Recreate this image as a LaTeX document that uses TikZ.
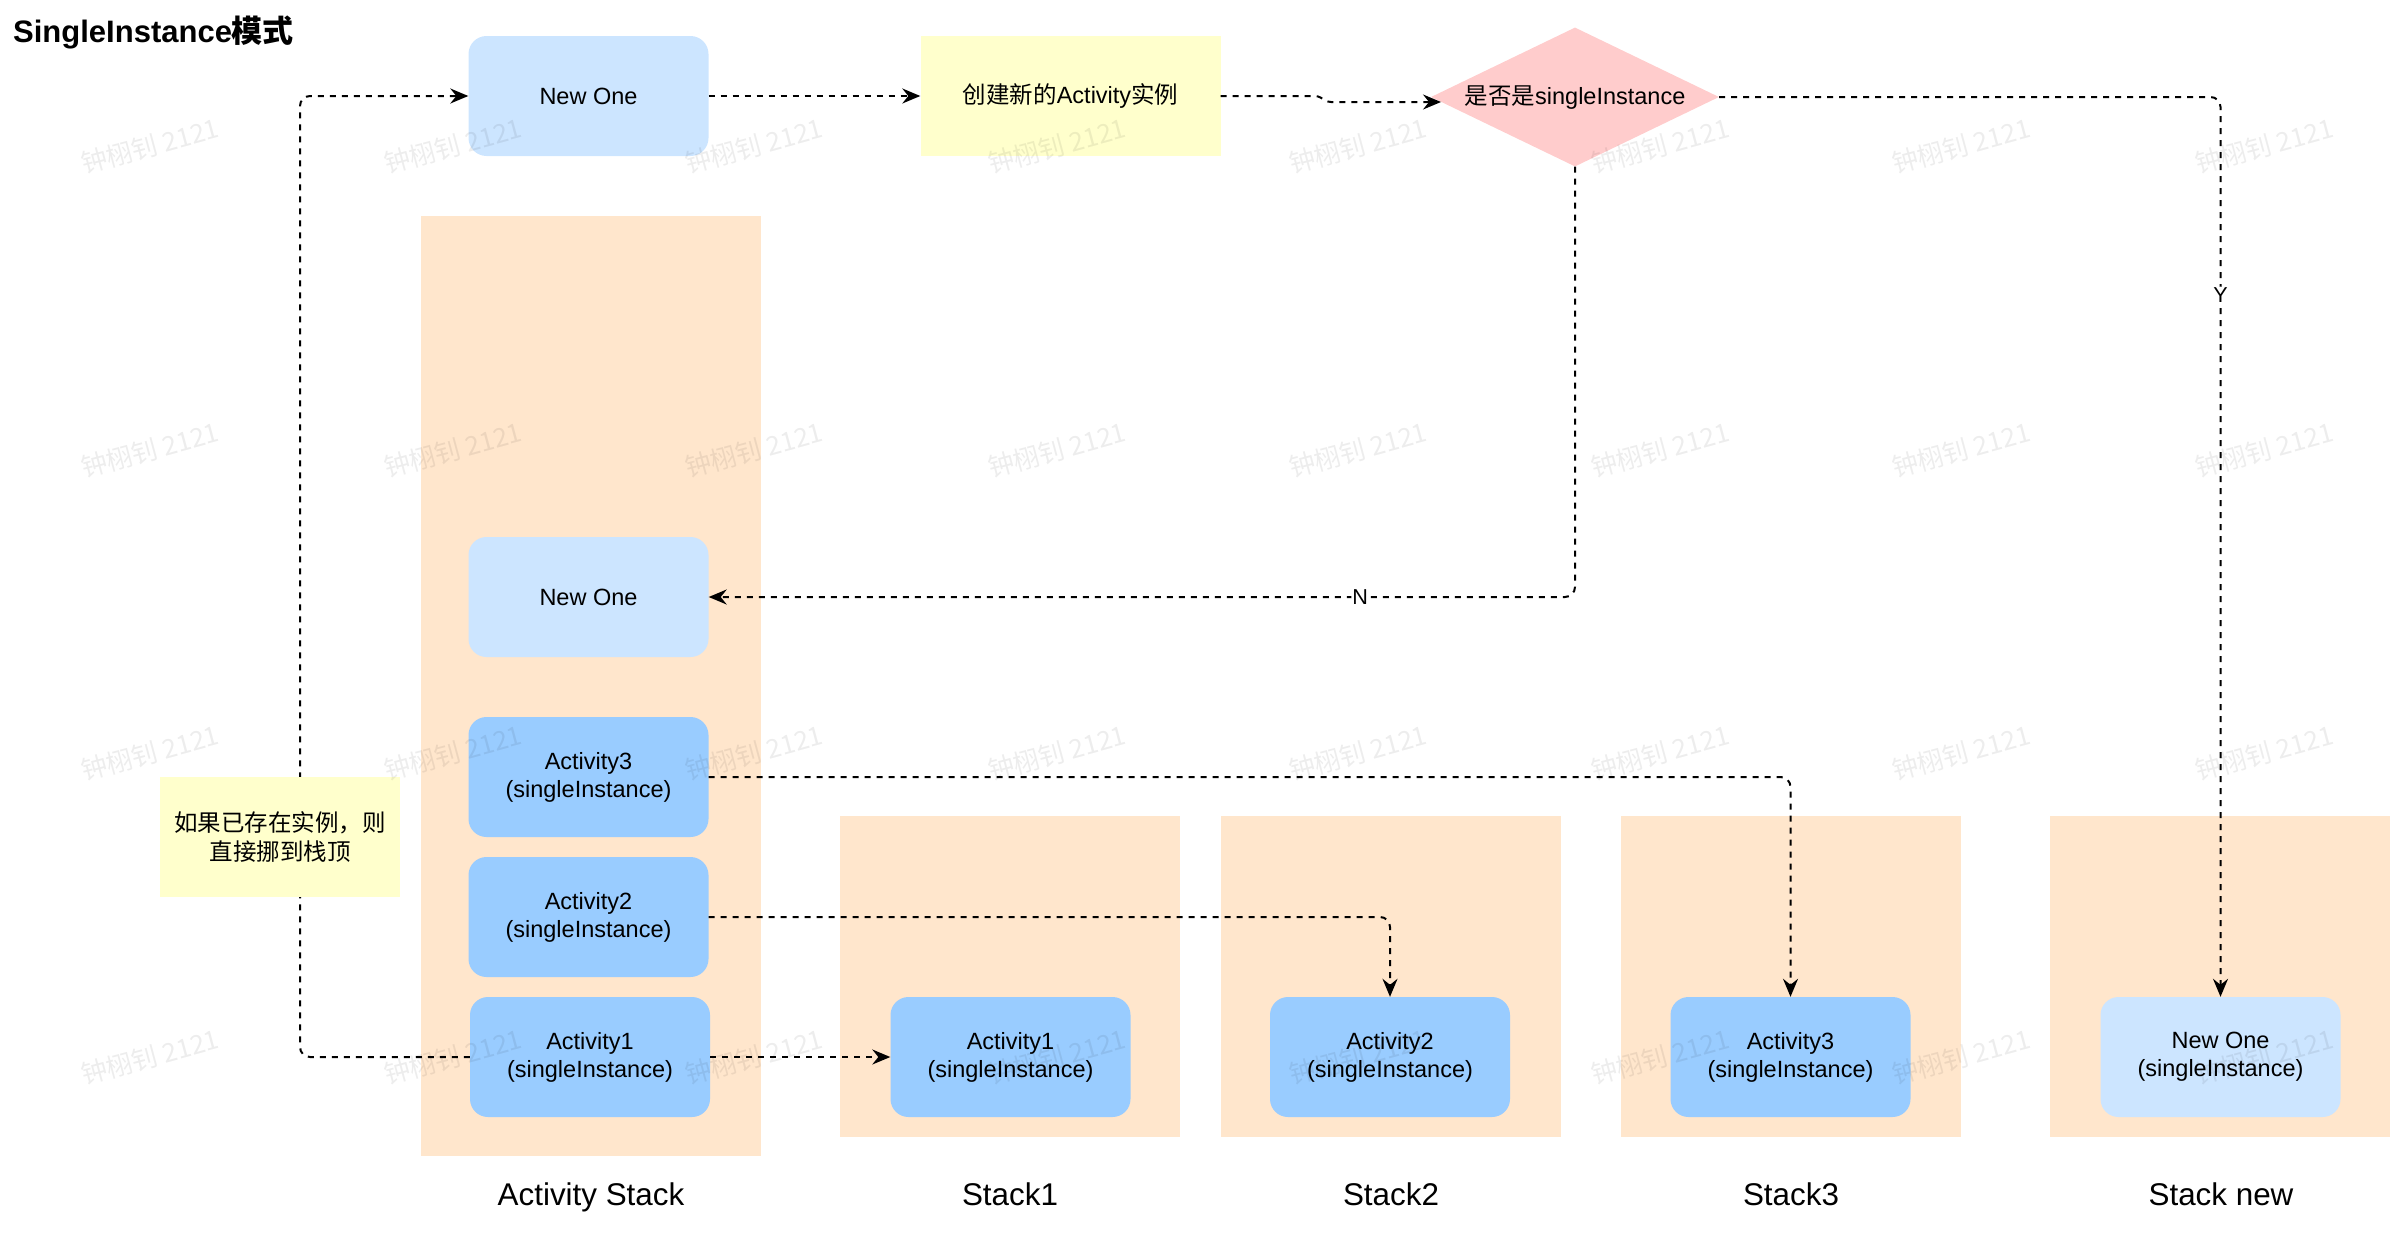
\documentclass[tikz,border=0pt]{standalone}
\usepackage{fontspec}
\setmainfont{Liberation Sans}
\newfontfamily\cjk{Noto Sans CJK SC}
\usetikzlibrary{arrows.meta,shapes.geometric}
\definecolor{lblue}{HTML}{CCE5FF}
\definecolor{mblue}{HTML}{99CCFF}
\definecolor{peach}{HTML}{FFE6CC}
\definecolor{lyellow}{HTML}{FFFFCC}
\definecolor{dpink}{HTML}{FFCCCC}
\begin{document}
\begin{tikzpicture}[x=1pt,y=-1pt,
  txt/.style={font=\fontsize{23.5}{28}\selectfont, align=center, inner sep=0pt},
  rbox/.style={txt, minimum width=240pt, minimum height=120pt, rounded corners=18pt},
  newbox/.style={rbox, fill=lblue},
  actbox/.style={rbox, fill=mblue},
  stackbox/.style={fill=peach, inner sep=0pt, minimum width=340pt},
  notebox/.style={txt, fill=lyellow, minimum width=240pt, minimum height=120pt},
  conn/.style={line width=2pt, dash pattern=on 6pt off 6pt, rounded corners=10pt,
    -{Stealth[length=18pt,width=15pt,inset=6pt]}},
  elabel/.style={font=\fontsize{21.6}{24}\selectfont, fill=white, inner sep=1pt},
  stacklabel/.style={font=\fontsize{31.4}{36}\selectfont, anchor=base, inner sep=0pt},
  wm/.style={font=\cjk\fontsize{26}{30}\selectfont, text=black, text opacity=0.07, rotate=15, inner sep=0pt}
]
\useasboundingbox (0,0) rectangle (2408,1234);

% title
\node[anchor=base west, inner sep=0pt, font=\bfseries\fontsize{31}{36}\selectfont] (title) at (13,42) {SingleInstance{\cjk 模式}};

% stack backgrounds
\node[stackbox, minimum height=940pt] (stk0) at (591,686) {};
\node[stackbox, minimum height=321pt] (stk1) at (1010,976.5) {};
\node[stackbox, minimum height=321pt] (stk2) at (1391,976.5) {};
\node[stackbox, minimum height=321pt] (stk3) at (1790.5,976.5) {};
\node[stackbox, minimum height=321pt] (stk4) at (2220,976.5) {};

% top flow
\node[newbox] (n1) at (588.5,96) {New One};
\node[notebox, minimum width=300pt] (create) at (1070.5,96) {{\cjk 创建新的}Activity{\cjk 实例}};
\node[diamond, fill=dpink, minimum width=288pt, minimum height=139pt, inner sep=0pt] (dia) at (1575,97) {};
\node[txt] (diatext) at (1575,98) {{\cjk 是否是}singleInstance};

% activity stack
\node[newbox] (n2) at (588.5,597) {New One};
\node[actbox] (a3) at (588.5,777) {Activity3\\(singleInstance)};
\node[actbox] (a2) at (588.5,917) {Activity2\\(singleInstance)};
\node[actbox] (a1) at (590,1057) {Activity1\\(singleInstance)};

% other stacks
\node[actbox] (s1a1) at (1010.5,1057) {Activity1\\(singleInstance)};
\node[actbox] (s2a2) at (1390,1057) {Activity2\\(singleInstance)};
\node[actbox] (s3a3) at (1790.5,1057) {Activity3\\(singleInstance)};
\node[newbox] (s4n) at (2220.5,1057) {New One\\(singleInstance)};

% stack labels
\node[stacklabel] (lab0) at (591,1205) {Activity Stack};
\node[stacklabel] (lab1) at (1010,1205) {Stack1};
\node[stacklabel] (lab2) at (1391,1205) {Stack2};
\node[stacklabel] (lab3) at (1791,1205) {Stack3};
\node[stacklabel] (lab4) at (2221,1205) {Stack new};

% connectors
\coordinate (lp) at (300,1057);
\draw[conn] (a1.west) -- (lp) |- (n1.west);
\draw[conn] (n1.east) -- (create.west);
\coordinate (j1) at (1318,96);
\coordinate (j2) at (1328,102);
\coordinate (dtip) at (1441,102);
\draw[conn, rounded corners=3pt] (create.east) -- (j1) -- (j2) -- (dtip);
\draw[conn] (dia.east) -| node[elabel, pos=0.61] (ylab) {Y} (s4n.north);
\draw[conn] (dia.south) |- node[elabel, pos=0.624] (nlab) {N} (n2.east);
\draw[conn] (a1.east) -- (s1a1.west);
\draw[conn] (a2.east) -| (s2a2.north);
\draw[conn] (a3.east) -| (s3a3.north);

% note covering the loop line
\node[notebox, font=\cjk\fontsize{23.5}{29}\selectfont] (note) at (280,837) {如果已存在实例，则\\直接挪到栈顶};

% watermarks
\foreach \wx in {150,453,754,1057,1358,1660,1961,2264}{
  \foreach \wy in {146,450,753,1057}{
    \node[wm] (wm-\wx-\wy) at (\wx,\wy) {钟栩钊 2121};
  }
}
\end{tikzpicture}
\end{document}
